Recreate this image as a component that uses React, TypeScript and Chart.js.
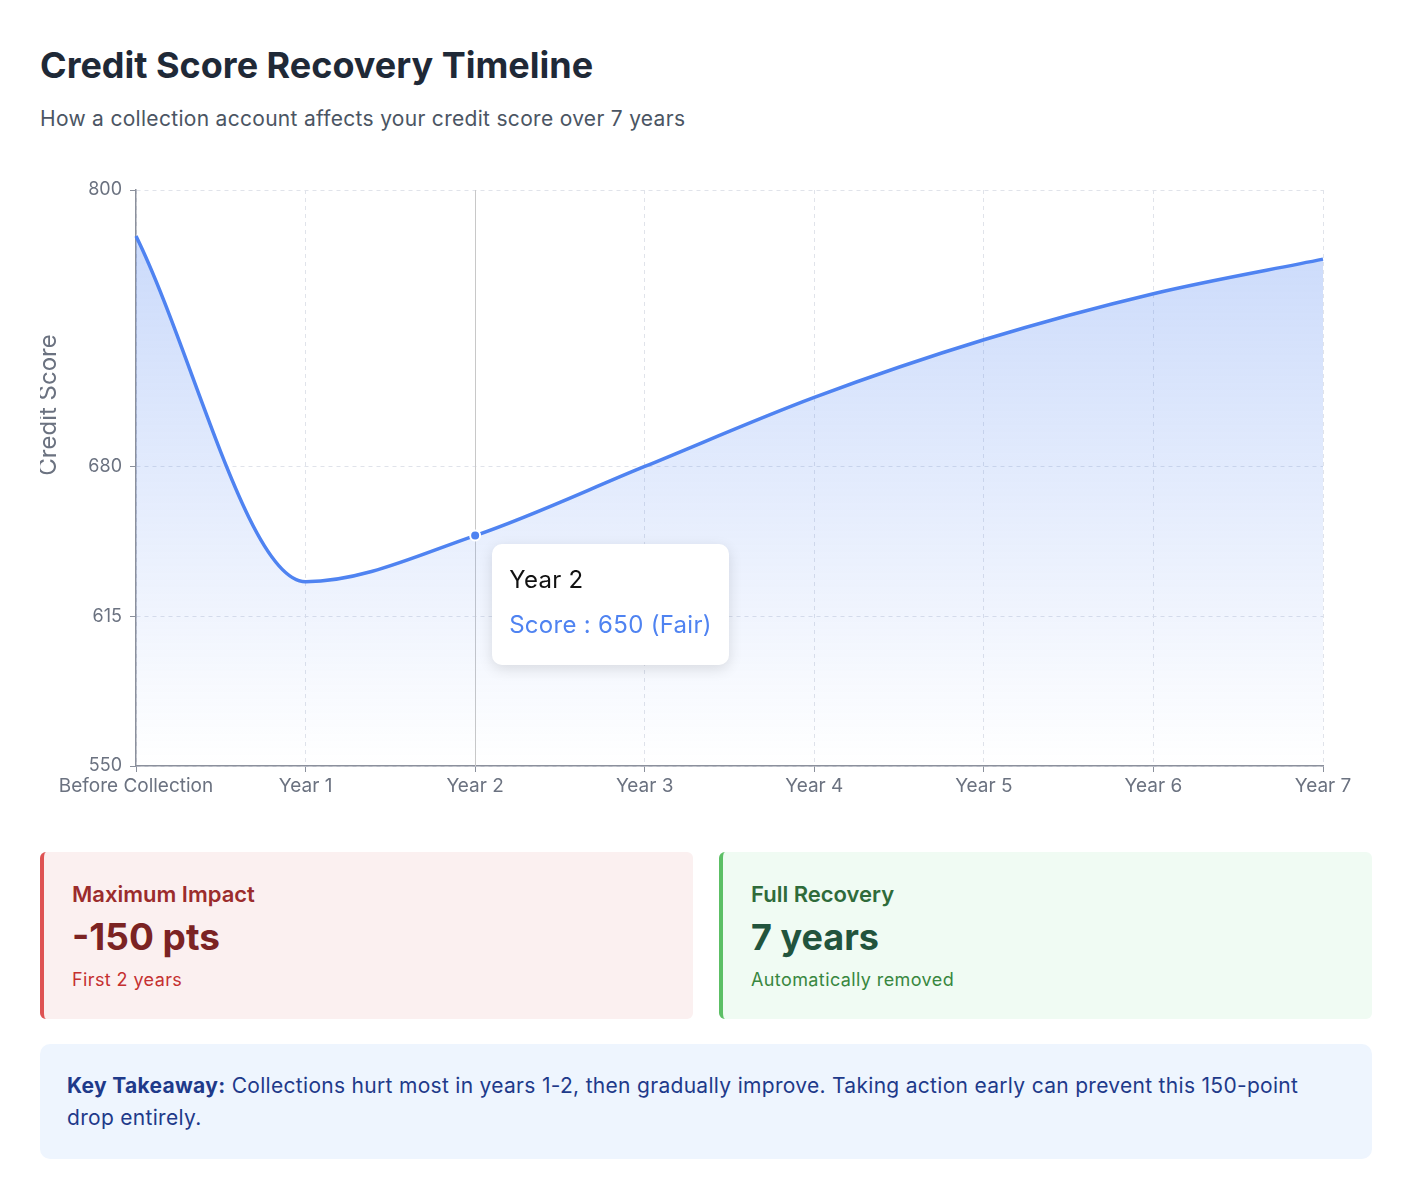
import React, { useEffect, useRef } from "react";
import { Chart, registerables } from "chart.js";

Chart.register(...registerables);

const categories = [
  "Before Collection",
  "Year 1",
  "Year 2",
  "Year 3",
  "Year 4",
  "Year 5",
  "Year 6",
  "Year 7",
];
const scores = [780, 630, 650, 680, 710, 735, 755, 770];
const yTickValues = [550, 615, 680, 800];
const yMin = 550;
const yMax = 800;
const activeIndex = 2;

const LINE = "#4f83f1";
const FONT = "Inter, 'Noto Sans', sans-serif";

function rating(v: number): string {
  if (v >= 740) return "Very Good";
  if (v >= 670) return "Good";
  if (v >= 580) return "Fair";
  return "Poor";
}

const cursorPlugin = {
  id: "cursorLine",
  beforeDatasetsDraw(chart: any) {
    const act = chart.getActiveElements();
    if (!act.length) return;
    const x = act[0].element.x;
    const { top, bottom } = chart.chartArea;
    const ctx = chart.ctx;
    ctx.save();
    ctx.strokeStyle = "#c8c8c8";
    ctx.lineWidth = 1;
    ctx.beginPath();
    ctx.moveTo(Math.round(x) + 0.5, top);
    ctx.lineTo(Math.round(x) + 0.5, bottom);
    ctx.stroke();
    ctx.restore();
  },
};

const yTitlePlugin = {
  id: "yTitle",
  afterDraw(chart: any) {
    const ctx = chart.ctx;
    const { left, top } = chart.chartArea;
    ctx.save();
    ctx.translate(left - 87, top + 215);
    ctx.rotate(-Math.PI / 2);
    ctx.fillStyle = "#6b7280";
    ctx.font = `24px ${FONT}`;
    ctx.textAlign = "center";
    ctx.textBaseline = "middle";
    ctx.fillText("Credit Score", 0, 0);
    ctx.restore();
  },
};

function CreditChart() {
  const canvasRef = useRef<HTMLCanvasElement | null>(null);
  const tipRef = useRef<HTMLDivElement | null>(null);

  useEffect(() => {
    if (!canvasRef.current) return;
    const external = (context: any) => {
      const { chart, tooltip } = context;
      const el = tipRef.current;
      if (!el) return;
      if (tooltip.opacity === 0 || !tooltip.dataPoints || !tooltip.dataPoints.length) {
        el.style.display = "none";
        return;
      }
      const dp = tooltip.dataPoints[0];
      const v = dp.raw as number;
      el.innerHTML = "";
      const t = document.createElement("div");
      t.textContent = dp.label;
      t.style.cssText = "color:#111111;font-size:24px;line-height:30px;";
      const s = document.createElement("div");
      s.textContent = `Score : ${v} (${rating(v)})`;
      s.style.cssText = `color:${LINE};font-size:24px;line-height:30px;margin-top:15px;`;
      el.appendChild(t);
      el.appendChild(s);
      const pt = dp.element;
      el.style.display = "block";
      el.style.left = `${chart.canvas.offsetLeft + pt.x + 17}px`;
      el.style.top = `${chart.canvas.offsetTop + pt.y + 8}px`;
    };

    const chart = new Chart(canvasRef.current, {
      type: "line",
      data: {
        labels: categories,
        datasets: [
          {
            label: "Score",
            data: scores,
            borderColor: LINE,
            borderWidth: 3.5,
            cubicInterpolationMode: "monotone",
            fill: "start",
            backgroundColor: (ctx: any) => {
              const c = ctx.chart;
              const area = c.chartArea;
              if (!area) return "rgba(79,131,241,0.2)";
              const g = c.ctx.createLinearGradient(0, area.top, 0, area.bottom);
              g.addColorStop(0, "rgba(79,131,241,0.32)");
              g.addColorStop(1, "rgba(79,131,241,0.0)");
              return g;
            },
            pointRadius: 0,
            pointHoverRadius: 5,
            pointHoverBackgroundColor: LINE,
            pointHoverBorderColor: "#ffffff",
            pointHoverBorderWidth: 2,
          },
        ],
      },
      options: {
        responsive: true,
        maintainAspectRatio: false,
        animation: false,
        layout: { padding: { top: 20, right: 49, left: 0, bottom: 0 } },
        interaction: { mode: "index", intersect: false },
        plugins: {
          legend: { display: false },
          tooltip: { enabled: false, external },
        },
        scales: {
          x: {
            type: "category",
            offset: false,
            grid: {
              color: "#e0e3ea",
              tickColor: "#8b909c",
              tickLength: 6,
              lineWidth: 1,
            },
            border: { display: true, color: "#8b909c", width: 1.5, dash: [4, 4] },
            ticks: {
              color: "#6b7280",
              font: { family: FONT, size: 19 },
              padding: 3,
              maxRotation: 0,
              autoSkip: false,
            },
            afterFit: (s: any) => {
              s.height = 44;
            },
          },
          y: {
            min: yMin,
            max: yMax,
            afterBuildTicks: (s: any) => {
              s.ticks = yTickValues.map((v) => ({ value: v }));
            },
            grid: {
              color: "#e0e3ea",
              tickColor: "#8b909c",
              tickLength: 6,
              lineWidth: 1,
            },
            border: { display: true, color: "#8b909c", width: 1.5, dash: [4, 4] },
            ticks: {
              color: "#6b7280",
              font: { family: FONT, size: 18 },
              padding: 8,
            },
            afterFit: (s: any) => {
              s.width = 96;
            },
          },
        },
      },
      plugins: [cursorPlugin, yTitlePlugin],
    } as any);

    const act = [{ datasetIndex: 0, index: activeIndex }];
    chart.setActiveElements(act);
    const el = chart.getDatasetMeta(0).data[activeIndex] as any;
    chart.tooltip!.setActiveElements(act, { x: el.x, y: el.y });
    chart.update();

    return () => {
      chart.destroy();
    };
  }, []);

  return (
    <div style={{ position: "relative", width: 1332, height: 640 }}>
      <canvas ref={canvasRef} />
      <div
        ref={tipRef}
        style={{
          position: "absolute",
          display: "none",
          background: "#ffffff",
          borderRadius: 10,
          boxShadow: "0 4px 14px rgba(0,0,0,0.12)",
          padding: "21px 17px 25px",
          whiteSpace: "nowrap",
          fontFamily: FONT,
          letterSpacing: "0.3px",
          pointerEvents: "none",
        }}
      />
    </div>
  );
}

export default function App() {
  return (
    <div
      style={{
        fontFamily: FONT,
        padding: "36px 0 30px 32px",
        width: 1332,
        background: "#ffffff",
      }}
    >
      <h1
        style={{
          margin: 0,
          fontSize: 36,
          lineHeight: "43px",
          fontWeight: 700,
          color: "#1f2937",
        }}
      >
        Credit Score Recovery Timeline
      </h1>
      <div
        style={{
          marginTop: 18,
          fontSize: 21,
          lineHeight: "28px",
          letterSpacing: "0.3px",
          color: "#4b5563",
        }}
      >
        How a collection account affects your credit score over 7 years
      </div>
      <div style={{ marginTop: 37 }}>
        <CreditChart />
      </div>
      <div style={{ display: "flex", gap: 26, marginTop: 42 }}>
        <div
          style={{
            flex: 1,
            background: "#fbf0f0",
            borderLeft: "4px solid #de5353",
            borderRadius: 6,
            padding: "28px 28px 27px 28px",
          }}
        >
          <div style={{ fontSize: 22, lineHeight: "28px", fontWeight: 600, color: "#9b2c2c" }}>
            Maximum Impact
          </div>
          <div style={{ marginTop: 7, fontSize: 37, lineHeight: "44px", fontWeight: 700, color: "#7b2323" }}>
            -150 pts
          </div>
          <div style={{ marginTop: 9, fontSize: 18, lineHeight: "24px", letterSpacing: "0.4px", color: "#c53030" }}>
            First 2 years
          </div>
        </div>
        <div
          style={{
            flex: 1,
            background: "#f0fbf3",
            borderLeft: "4px solid #5cbf65",
            borderRadius: 6,
            padding: "28px 28px 27px 28px",
          }}
        >
          <div style={{ fontSize: 22, lineHeight: "28px", fontWeight: 600, color: "#2f6b3a" }}>
            Full Recovery
          </div>
          <div style={{ marginTop: 7, fontSize: 36, lineHeight: "44px", fontWeight: 700, color: "#22543d" }}>
            7 years
          </div>
          <div style={{ marginTop: 9, fontSize: 18, lineHeight: "24px", letterSpacing: "0.4px", color: "#38873f" }}>
            Automatically removed
          </div>
        </div>
      </div>
      <div
        style={{
          marginTop: 25,
          background: "#eef5fe",
          borderRadius: 10,
          padding: "26px 27px 25px",
          fontSize: 21,
          lineHeight: "32px",
          letterSpacing: "0.3px",
          color: "#1e3a8a",
        }}
      >
        <strong style={{ fontWeight: 700 }}>Key Takeaway:</strong> Collections hurt most in years 1-2, then
        gradually improve. Taking action early can prevent this 150-point drop entirely.
      </div>
    </div>
  );
}
